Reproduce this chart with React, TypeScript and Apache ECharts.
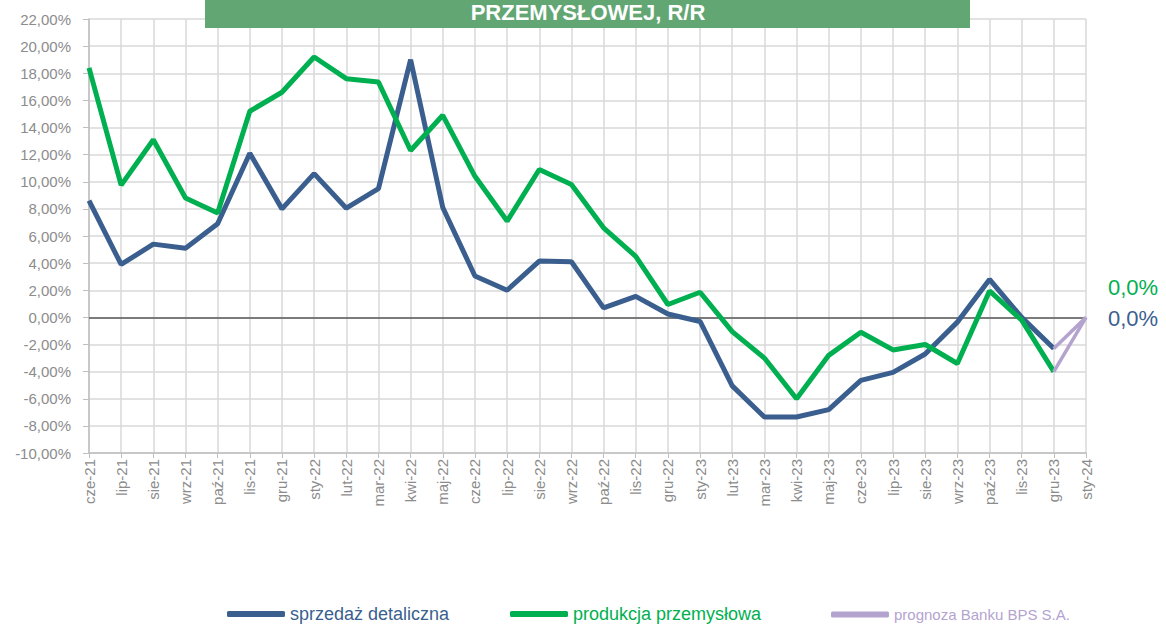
import React, { useEffect, useRef } from "react";
import * as echarts from "echarts";

const categories = [
  "cze-21", "lip-21", "sie-21", "wrz-21", "paź-21", "lis-21", "gru-21",
  "sty-22", "lut-22", "mar-22", "kwi-22", "maj-22", "cze-22", "lip-22", "sie-22", "wrz-22", "paź-22", "lis-22", "gru-22",
  "sty-23", "lut-23", "mar-23", "kwi-23", "maj-23", "cze-23", "lip-23", "sie-23", "wrz-23", "paź-23", "lis-23", "gru-23",
  "sty-24",
];

const retailSales: (number | null)[] = [
  8.6, 3.9, 5.4, 5.1, 6.9, 12.1, 8.0,
  10.6, 8.05, 9.5, 19.0, 8.1, 3.05, 2.0, 4.15, 4.1, 0.7, 1.55, 0.25,
  -0.3, -5.05, -7.35, -7.35, -6.8, -4.65, -4.05, -2.7, -0.35, 2.8, 0.0, -2.3,
  null,
];

const industrialProduction: (number | null)[] = [
  18.4, 9.75, 13.1, 8.8, 7.7, 15.2, 16.6,
  19.2, 17.6, 17.35, 12.3, 14.9, 10.4, 7.1, 10.9, 9.8, 6.6, 4.5, 0.95,
  1.85, -1.05, -3.0, -6.0, -2.8, -1.1, -2.4, -2.0, -3.4, 1.95, -0.2, -4.0,
  null,
];

// forecast: last actual value (gru-23) -> forecast (sty-24)
const forecastRetail: (number | null)[] = [
  null, null, null, null, null, null, null,
  null, null, null, null, null, null, null, null, null, null, null, null,
  null, null, null, null, null, null, null, null, null, null, null, -2.3,
  0.0,
];
const forecastIndustry: (number | null)[] = [
  null, null, null, null, null, null, null,
  null, null, null, null, null, null, null, null, null, null, null, null,
  null, null, null, null, null, null, null, null, null, null, null, -4.0,
  0.0,
];

const yTicksMin = -10;
const yTicksMax = 22;
const yTicksStep = 2;

const BLUE = "#3a5f8f";
const GREEN = "#00b050";
const PURPLE = "#b4a3cf";
const GRAY = "#8c8c8c";
const FONT = "Liberation Sans";

export default function App() {
  const ref = useRef<HTMLDivElement>(null);
  useEffect(() => {
    document.body.style.margin = "0";
    if (!ref.current) return;
    const chart = echarts.init(ref.current, undefined, { renderer: "svg" });
    const fmtPct = (v: number) => v.toFixed(2).replace(".", ",") + "%";
    const lastIdx = categories.length - 1;
    const endLabel = (arr: (number | null)[], color: string, offsetY: number) =>
      arr.map((v, i) =>
        i === lastIdx
          ? {
              value: v,
              label: {
                show: true,
                position: "right",
                distance: 22,
                offset: [0, offsetY],
                formatter: () => (v as number).toFixed(1).replace(".", ",") + "%",
                color,
                fontSize: 22,
                fontFamily: FONT,
              },
            }
          : v
      );
    chart.setOption({
      animation: false,
      textStyle: { fontFamily: FONT },
      grid: { left: 89, right: 80, top: 19, bottom: 172, containLabel: false },
      xAxis: {
        type: "category",
        data: categories,
        boundaryGap: false,
        axisLine: { show: true, onZero: false, lineStyle: { color: "#bfbfbf", width: 1.5 } },
        axisTick: { show: true, alignWithLabel: true, interval: 0, length: 5, lineStyle: { color: "#bfbfbf" } },
        axisLabel: {
          interval: 0,
          rotate: 90,
          color: GRAY,
          fontSize: 15,
          fontFamily: FONT,
          margin: 6,
        },
        splitLine: { show: true, interval: 0, lineStyle: { color: "#d9d9d9", width: 1.5 } },
      },
      yAxis: {
        type: "value",
        min: yTicksMin,
        max: yTicksMax,
        interval: yTicksStep,
        axisLine: { show: true, lineStyle: { color: "#bfbfbf", width: 1.5 } },
        axisTick: { show: true, length: 6, lineStyle: { color: "#bfbfbf" } },
        axisLabel: {
          color: GRAY,
          fontSize: 15,
          fontFamily: FONT,
          margin: 18,
          formatter: (v: number) => fmtPct(v),
        },
        splitLine: { show: true, lineStyle: { color: "#d9d9d9", width: 1.5 } },
      },
      legend: [
        {
          data: [{ name: "sprzedaż detaliczna", textStyle: { color: BLUE } }],
          left: 222,
          top: 600,
          icon: "roundRect",
          itemWidth: 58,
          itemHeight: 6,
          textStyle: { fontSize: 18, fontFamily: FONT },
        },
        {
          data: [{ name: "produkcja przemysłowa", textStyle: { color: GREEN } }],
          left: 505,
          top: 600,
          icon: "roundRect",
          itemWidth: 58,
          itemHeight: 6,
          textStyle: { fontSize: 18, fontFamily: FONT },
        },
        {
          data: [{ name: "prognoza Banku BPS S.A.", textStyle: { color: PURPLE } }],
          left: 826,
          top: 602,
          icon: "roundRect",
          itemWidth: 58,
          itemHeight: 6,
          textStyle: { fontSize: 15, fontFamily: FONT },
        },
      ],
      graphic: [
        {
          type: "rect",
          shape: { x: 205, y: -10, width: 765, height: 38 },
          style: { fill: "#62a673" },
          z: 100,
        },
        {
          type: "text",
          x: 588,
          y: 1,
          z: 101,
          style: {
            text: "PRZEMYSŁOWEJ, R/R",
            fill: "#ffffff",
            font: `bold 22px "${FONT}"`,
            align: "center",
            verticalAlign: "top",
          },
        },
      ],
      series: [
        {
          name: "sprzedaż detaliczna",
          type: "line",
          data: retailSales,
          showSymbol: false,
          symbol: "none",
          lineStyle: { color: BLUE, width: 5 },
          itemStyle: { color: BLUE },
          z: 3,
          markLine: {
            silent: true,
            symbol: ["none", "none"],
            label: { show: false },
            lineStyle: { color: "#595959", width: 1.5, type: "solid" },
            data: [{ yAxis: 0 }],
            z: 1,
          },
        },
        {
          name: "produkcja przemysłowa",
          type: "line",
          data: industrialProduction,
          showSymbol: false,
          symbol: "none",
          lineStyle: { color: GREEN, width: 5 },
          itemStyle: { color: GREEN },
          z: 4,
        },
        {
          name: "prognoza Banku BPS S.A.",
          type: "line",
          data: endLabel(forecastRetail, BLUE, 1),
          showSymbol: true,
          symbol: "circle",
          symbolSize: 0,
          lineStyle: { color: PURPLE, width: 3.5 },
          itemStyle: { color: PURPLE },
          z: 5,
        },
        {
          name: "prognoza Banku BPS S.A.",
          type: "line",
          data: endLabel(forecastIndustry, GREEN, -30),
          showSymbol: true,
          symbol: "circle",
          symbolSize: 0,
          lineStyle: { color: PURPLE, width: 3.5 },
          itemStyle: { color: PURPLE },
          z: 5,
        },
      ],
    });
    return () => chart.dispose();
  }, []);
  return <div ref={ref} style={{ width: 1166, height: 625 }} />;
}
